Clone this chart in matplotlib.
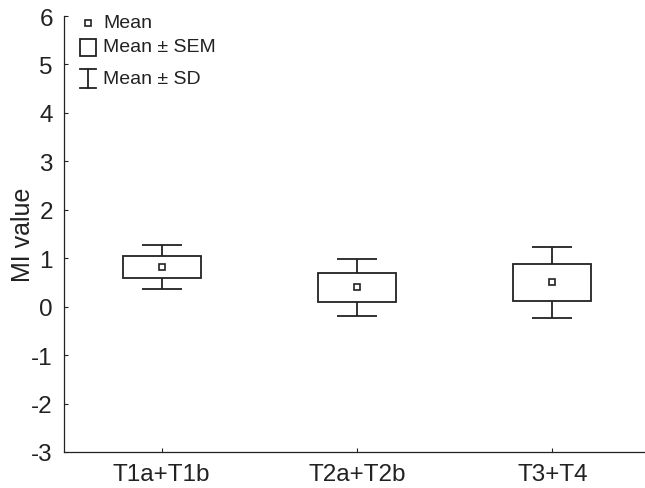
import matplotlib
matplotlib.use("Agg")
import matplotlib.pyplot as plt
from matplotlib.patches import Rectangle
from matplotlib.lines import Line2D

plt.rcParams['font.family'] = ['Liberation Sans', 'DejaVu Sans']

categories = ["T1a+T1b", "T2a+T2b", "T3+T4"]
means = [0.82, 0.41, 0.50]
sem_low = [0.59, 0.09, 0.12]
sem_high = [1.05, 0.70, 0.88]
sd_low = [0.37, -0.20, -0.24]
sd_high = [1.27, 0.99, 1.24]
yticks = [-3, -2, -1, 0, 1, 2, 3, 4, 5, 6]

W, H = 645, 489
fig = plt.figure(figsize=(W / 100, H / 100), dpi=100)
left, right, top, bottom = 64, 650, 17, 453
ax = fig.add_axes([left / W, 1 - bottom / H, (right - left) / W, (bottom - top) / H])

lw = 1.3
box_w = 0.40
cap_w = 0.205
xs = list(range(1, len(categories) + 1))
for x, m, bl, bh, wl, wh in zip(xs, means, sem_low, sem_high, sd_low, sd_high):
    ax.add_patch(Rectangle((x - box_w / 2, bl), box_w, bh - bl, facecolor='white',
                           edgecolor='#222222', linewidth=lw, zorder=2))
    ax.vlines(x, bh, wh, color='#222222', linewidth=lw, zorder=1)
    ax.vlines(x, wl, bl, color='#222222', linewidth=lw, zorder=1)
    ax.hlines([wl, wh], x - cap_w / 2, x + cap_w / 2, color='#222222', linewidth=lw, zorder=1)
    ax.plot([x], [m], marker='s', markersize=4.5, markerfacecolor='white',
            markeredgecolor='#222222', markeredgewidth=1.2, zorder=3)

ax.set_xlim(0.5, 3.5)
ax.set_ylim(-3, 6)
ax.set_xticks(xs)
ax.set_xticklabels(categories)
ax.set_yticks(yticks)
ax.set_yticklabels([str(t) for t in yticks])
ax.tick_params(direction='in', length=3, width=0.8, labelsize=17.5, pad=8, colors='#222222')
ax.tick_params(axis='x', pad=8)
ax.spines['top'].set_visible(False)
ax.spines['right'].set_visible(False)
for s in ['left', 'bottom']:
    ax.spines[s].set_linewidth(0.9)
    ax.spines[s].set_color('#222222')
ax.set_ylabel("MI value", fontsize=18, color='#222222', labelpad=-3)

# Legend drawn in figure pixel coordinates
def fx(px):
    return px / W

def fy(py):
    return 1 - py / H

tf = fig.transFigure
fig.add_artist(Line2D([fx(88)], [fy(24)], marker='s', markersize=4.5, markerfacecolor='white',
                      markeredgecolor='#222222', markeredgewidth=1.2, transform=tf))
fig.add_artist(Rectangle((fx(79.5), fy(57)), fx(96) - fx(79.5), fy(39.5) - fy(57), transform=tf,
                         facecolor='white', edgecolor='#222222', linewidth=lw))
fig.add_artist(Line2D([fx(87.5), fx(87.5)], [fy(70), fy(89)], color='#222222', linewidth=lw, transform=tf))
fig.add_artist(Line2D([fx(79.5), fx(96)], [fy(70), fy(70)], color='#222222', linewidth=lw, transform=tf))
fig.add_artist(Line2D([fx(79.5), fx(96)], [fy(89), fy(89)], color='#222222', linewidth=lw, transform=tf))
for label, py in [("Mean", 24), ("Mean ± SEM", 48), ("Mean ± SD", 80)]:
    fig.text(fx(103), fy(py), label, fontsize=14, color='#222222', va='center', ha='left')

fig.savefig("out.png", dpi=100)
